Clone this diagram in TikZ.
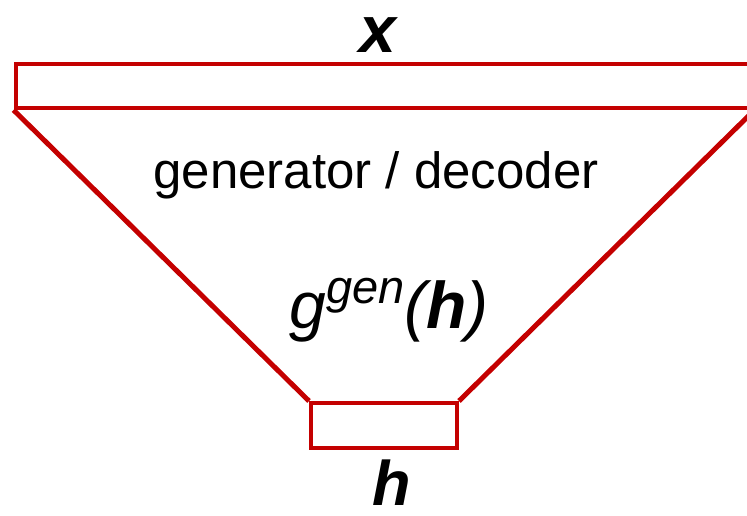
\documentclass[tikz,border=0pt]{standalone}
\usepackage{fontspec}
\setmainfont{Liberation Sans}
\usetikzlibrary{positioning}
\definecolor{boxred}{RGB}{196,0,0}

\begin{document}
\begin{tikzpicture}[x=1pt,y=-1pt,
  bar/.style={draw=boxred,line width=4pt,inner sep=0pt},
  side/.style={draw=boxred,line width=5pt},
  lbl/.style={anchor=base,inner sep=0pt}]
\useasboundingbox (0,0) rectangle (747,515);
% ---------- input bar x and code bar h ----------
\node[bar,minimum width=737pt,minimum height=44pt] (xbar) at (384,86) {};
\node[bar,minimum width=146pt,minimum height=45pt] (hbar) at (384,425.5) {};
% ---------- funnel sides ----------
\draw[side] (xbar.south west) -- (hbar.north west);
\draw[side] (xbar.south east) -- (hbar.north east);
% ---------- labels ----------
\node[lbl,text height=0.6em,font=\fontsize{66}{66}\selectfont\bfseries\itshape] (xlab) at (378,52) {x};
\node[lbl,font=\fontsize{51}{51}\selectfont] (name) at (376,188) {generator / decoder};
\node[lbl,font=\fontsize{66}{66}\selectfont\itshape] (gfun) at (389,328)
  {g\raisebox{25pt}{\fontsize{47}{47}\selectfont gen}(\textbf{h})};
\node[lbl,text depth=0pt,font=\fontsize{63}{63}\selectfont\bfseries\itshape] (hlab) at (392,505) {h};
\end{tikzpicture}
\end{document}
